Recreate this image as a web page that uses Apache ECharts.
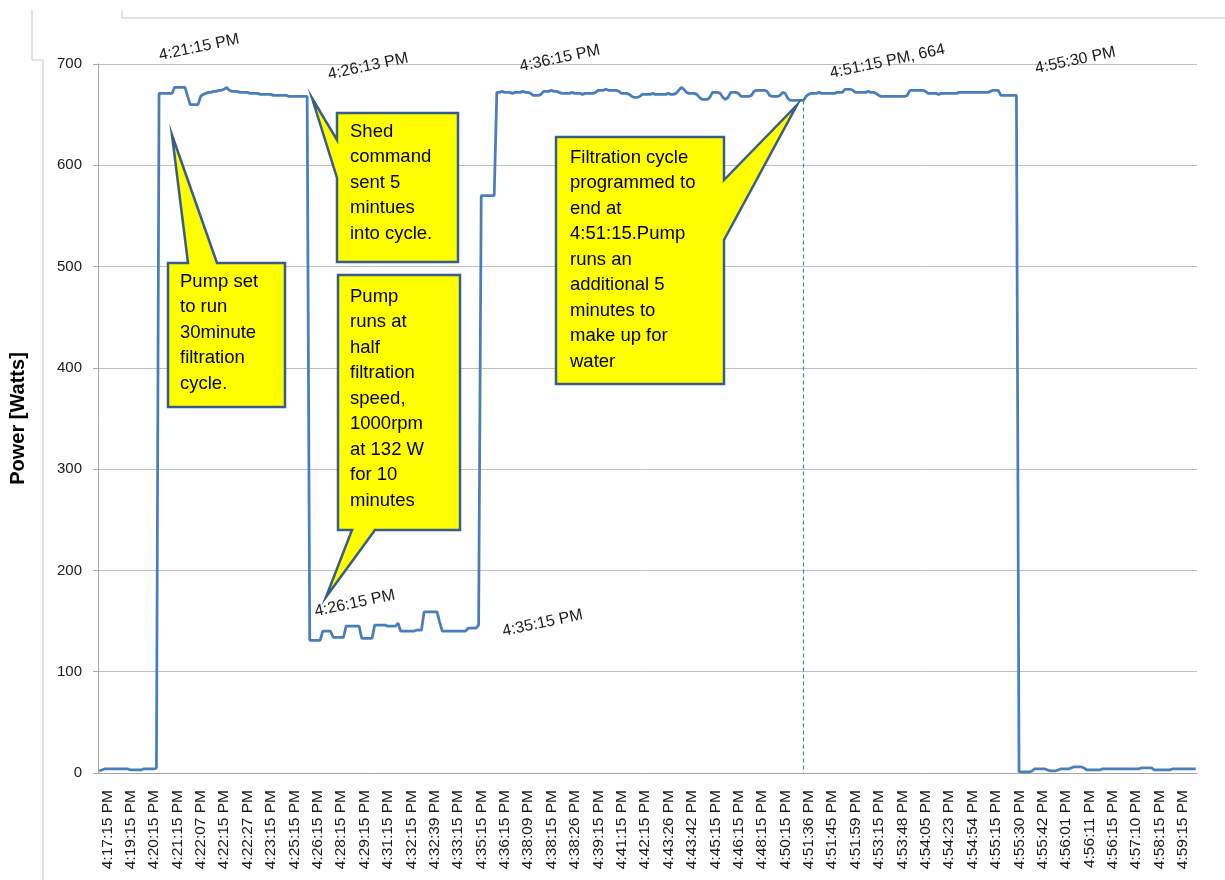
<!DOCTYPE html>
<html>
<head>
<meta charset="utf-8">
<title>Pump power</title>
<script src="https://cdn.jsdelivr.net/npm/echarts@6/dist/echarts.min.js"></script>
<style>
  html, body { margin: 0; padding: 0; background: #fff; }
  #chart { width: 1225px; height: 880px; }
</style>
</head>
<body>
<div id="chart"></div>
<script>
// axis labels (every 9th sample is labelled)
const timeLabels = [
  '4:17:15 PM', '4:19:15 PM', '4:20:15 PM', '4:21:15 PM', '4:22:07 PM', '4:22:15 PM', '4:22:27 PM', '4:23:15 PM',
  '4:25:15 PM', '4:26:15 PM', '4:28:15 PM', '4:29:15 PM', '4:31:15 PM', '4:32:15 PM', '4:32:39 PM', '4:33:15 PM',
  '4:35:15 PM', '4:36:15 PM', '4:38:09 PM', '4:38:15 PM', '4:38:26 PM', '4:39:15 PM', '4:41:15 PM', '4:42:15 PM',
  '4:43:26 PM', '4:43:42 PM', '4:45:15 PM', '4:46:15 PM', '4:48:15 PM', '4:50:15 PM', '4:51:36 PM', '4:51:45 PM',
  '4:51:59 PM', '4:53:15 PM', '4:53:48 PM', '4:54:05 PM', '4:54:23 PM', '4:54:54 PM', '4:55:15 PM', '4:55:30 PM',
  '4:55:42 PM', '4:56:01 PM', '4:56:11 PM', '4:56:15 PM', '4:57:10 PM', '4:58:15 PM', '4:59:15 PM'
];
const samplesPerLabel = 9;

// power readings in watts, by phase
const idleStart = [2, 3, 4, 4, 4, 4, 4, 4, 4, 4, 4, 4, 3, 3, 3, 3, 3, 4, 4, 4, 4, 4, 5];
const firstRun = [
  671, 671, 671, 671, 671, 671, 677, 677, 677, 677, 677, 668, 660, 660, 660, 660, 668, 670, 671, 672,
  672, 673, 673, 674, 674, 675, 677, 674, 673, 673, 673, 672, 672, 672, 672, 671, 671, 671,
  671, 670, 670, 670, 670, 670, 669, 669, 669, 669, 669, 669, 668, 668, 668, 668, 668, 668, 668, 668
];
const shedRun = [
  131, 131, 131, 131, 131, 140, 140, 140, 140, 134, 134, 134, 134, 134, 145, 145, 145, 145, 145, 145,
  133, 133, 133, 133, 133, 146, 146, 146, 146, 146, 145, 145, 145, 145, 148, 140, 140, 140, 140, 140,
  140, 141, 141, 141, 159, 159, 159, 159, 159, 159, 149, 140, 140, 140, 140, 140, 140, 140, 140, 140,
  140, 143, 143, 143, 143, 146
];
const rampUp = [570, 570, 570, 570, 570, 570];
const secondRun = [
  672, 672, 673, 672, 672, 672, 671, 672, 672, 672, 673, 672, 672, 671, 669, 669, 669, 670,
  673, 673, 673, 674, 673, 673, 672, 671, 671, 671, 671, 672, 671, 671, 671, 670, 671, 671, 671, 671, 672,
  674, 674, 674, 675, 674, 674, 674, 674, 673, 671, 671, 671, 670, 668, 667, 667, 668,
  670, 670, 670, 670, 671, 670, 670, 670, 670, 670, 671, 670, 670, 671, 674, 677, 675, 672,
  671, 671, 671, 670, 667, 665, 665, 665, 667, 672, 672, 672, 671, 667, 665, 667, 672, 672, 672, 671,
  668, 668, 668, 668, 669, 673, 674, 674, 674, 674, 673, 669, 668, 668, 668, 669, 672, 671,
  666, 664, 664, 664, 664, 664
];
const cycleEnd = [664];
const extraRun = [
  668, 670, 671, 671, 671, 672, 671, 671, 671, 671, 671, 671, 672, 672, 672, 675, 675, 675, 674,
  672, 672, 672, 672, 672, 673, 672, 672, 671, 669, 668, 668, 668, 668, 668, 668, 668, 668, 668, 668, 669,
  674, 674, 674, 674, 674, 674, 673, 671, 671, 671, 671, 670, 671, 671, 671, 671, 671, 671, 671,
  672, 672, 672, 672, 672, 672, 672, 672, 672, 672, 672, 672, 673, 674, 674, 674,
  669, 669, 669, 669, 669, 669, 669
];
const idleEnd = [
  1, 1, 1, 1, 1, 2, 4, 4, 4, 4, 4, 3, 2, 2, 2, 3, 4, 4, 4, 4, 5, 6, 6, 6, 6, 5, 3, 3, 3, 3, 3, 3,
  4, 4, 4, 4, 4, 4, 4, 4, 4, 4, 4, 4, 4, 4, 4, 5, 5, 5, 5, 5, 3, 3, 3, 3, 3, 3, 3,
  4, 4, 4, 4, 4, 4, 4, 4, 4, 4
];

const power = [].concat(idleStart, firstRun, shedRun, rampUp, secondRun, cycleEnd, extraRun, idleEnd);

const categories = [];
timeLabels.forEach((t) => {
  categories.push(t);
  for (let j = 1; j < samplesPerLabel; j++) categories.push(t + ' +' + j);
});

// point labels: sample index and text
const pointNotes = [
  { idx: 23, text: '4:21:15 PM', dx: 40, dy: -46 },
  { idx: 80, text: '4:26:13 PM', dx: 61, dy: -30 },
  { idx: 81, text: '4:26:15 PM', dx: 45, dy: -37 },
  { idx: 146, text: '4:35:15 PM', dx: 64, dy: -2 },
  { idx: 153, text: '4:36:15 PM', dx: 63, dy: -34 },
  { idx: 271, text: '4:51:15 PM, 664', dx: 84, dy: -39 },
  { idx: 353, text: '4:55:30 PM', dx: 59, dy: -35 }
];
const endIdx = idleStart.length + firstRun.length + shedRun.length + rampUp.length + secondRun.length;

// yellow callouts (outline incl. pointer) and their text
const callouts = [
  {
    pts: [[168, 263], [188, 263], [172, 135], [217, 263], [285, 263], [285, 407], [168, 407]],
    x: 180, y: 269,
    text: 'Pump set\nto run\n30minute\nfiltration\ncycle.'
  },
  {
    pts: [[337, 113], [458, 113], [458, 262], [337, 262], [337, 178], [312, 98], [337, 140]],
    x: 350, y: 119,
    text: 'Shed\ncommand\nsent 5\nmintues\ninto cycle.'
  },
  {
    pts: [[338, 275], [460, 275], [460, 530], [375, 530], [326, 597], [352, 530], [338, 530]],
    x: 350, y: 284,
    text: 'Pump\nruns at\nhalf\nfiltration\nspeed,\n1000rpm\nat 132 W\nfor 10\nminutes'
  },
  {
    pts: [[556, 137], [724, 137], [724, 180], [797, 105], [724, 240], [724, 384], [556, 384]],
    x: 570, y: 145,
    text: 'Filtration cycle\nprogrammed to\nend at\n4:51:15.Pump\nruns an\nadditional 5\nminutes to\nmake up for\nwater'
  }
];

const FONT = '"Liberation Sans", Arial, sans-serif';
const chart = echarts.init(document.getElementById('chart'));

chart.setOption({
  animation: false,
  textStyle: { fontFamily: FONT },
  grid: { left: 97, right: 28, top: 64, bottom: 107 },
  xAxis: {
    type: 'category',
    data: categories,
    boundaryGap: true,
    axisLine: { lineStyle: { color: '#A6A6A6' } },
    axisTick: { interval: 0, length: 5, lineStyle: { color: '#A6A6A6' } },
    axisLabel: {
      interval: samplesPerLabel - 1,
      rotate: 90,
      margin: 17,
      fontSize: 15.5,
      verticalAlign: 'top',
      color: '#1a1a1a'
    }
  },
  yAxis: {
    type: 'value',
    min: 0,
    max: 700,
    interval: 100,
    name: 'Power [Watts]',
    nameLocation: 'middle',
    nameGap: 70,
    nameTextStyle: { fontSize: 20, fontWeight: 'bold', color: '#000' },
    axisLine: { show: true, lineStyle: { color: '#A6A6A6' } },
    axisTick: { show: true, length: 5, lineStyle: { color: '#A6A6A6' } },
    axisLabel: { fontSize: 15, margin: 16, color: '#1a1a1a' },
    splitLine: { lineStyle: { color: '#BFBFBF' } }
  },
  series: [
    {
      type: 'line',
      data: power,
      symbol: 'none',
      lineStyle: { color: '#4A7EBB', width: 2.75 },
      markLine: {
        silent: true,
        symbol: 'none',
        label: { show: false },
        lineStyle: { type: [4, 3], color: '#4A7EBB', width: 1.2 },
        data: [[{ coord: [endIdx, power[endIdx]] }, { coord: [endIdx, 0] }]]
      }
    }
  ]
});

const graphics = [
  // bits of the surrounding frame
  { type: 'polyline', shape: { points: [[32, 10], [32, 60], [43, 60], [43, 880]] }, style: { stroke: '#C8C8C8', lineWidth: 1, fill: null } },
  { type: 'polyline', shape: { points: [[122, 10], [122, 18], [1225, 18]] }, style: { stroke: '#C8C8C8', lineWidth: 1, fill: null } }
];

pointNotes.forEach((n) => {
  const p = chart.convertToPixel({ seriesIndex: 0 }, [n.idx, power[n.idx]]);
  graphics.push({
    type: 'text',
    x: p[0] + n.dx,
    y: p[1] + n.dy,
    rotation: 12 * Math.PI / 180,
    z: 20,
    style: { text: n.text, font: '16px ' + FONT, fill: '#1a1a1a', align: 'center', verticalAlign: 'middle' }
  });
});

callouts.forEach((c) => {
  graphics.push({
    type: 'polygon',
    z: 30,
    shape: { points: c.pts },
    style: { fill: '#FFFF00', stroke: '#385D8A', lineWidth: 2.5, lineJoin: 'miter' }
  });
  graphics.push({
    type: 'text',
    z: 31,
    x: c.x,
    y: c.y,
    style: { text: c.text, font: '18.5px ' + FONT, fill: '#000', lineHeight: 25.5, align: 'left', verticalAlign: 'top' }
  });
});

chart.setOption({ graphic: graphics });
</script>
</body>
</html>
